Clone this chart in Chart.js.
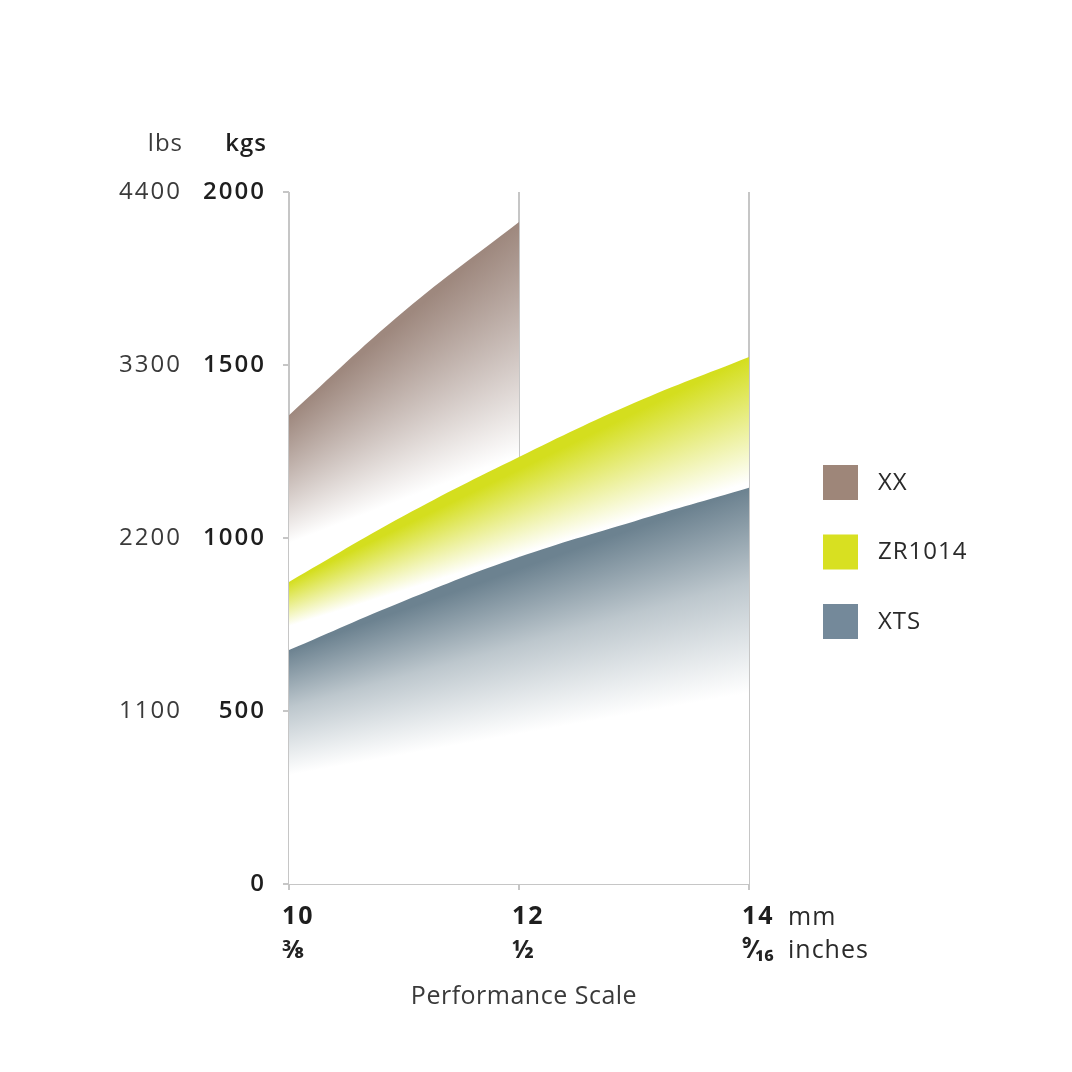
<!DOCTYPE html>
<html>
<head>
<meta charset="utf-8">
<title>Performance Scale</title>
<script src="https://cdn.jsdelivr.net/npm/chart.js@4.4.1/dist/chart.umd.min.js"></script>
<style>
    html, body { margin: 0; padding: 0; background: #fff; }
    #wrap { width: 1072px; height: 1072px; position: relative; }
</style>
</head>
<body>
<div id="wrap"><canvas id="chart"></canvas></div>
<script>
// Axis ticks
const mmTicks = [10, 12, 14];
const inchTicks = ['⅜', '½', '⁹⁄₁₆'];
const kgTicks = [0, 500, 1000, 1500, 2000];
const lbsTicks = [1100, 2200, 3300, 4400];

// Series (chain size in mm -> working load in kgs)
const seriesNames = ['XX', 'ZR1014', 'XTS'];
const xxSizes = [10, 11, 12];
const xxLoad = [1355, 1655, 1913];
const zrSizes = [10, 11, 12, 13, 14];
const zrLoad = [873, 1064, 1234, 1390, 1523];
const xtsSizes = [10, 11, 12, 13, 14];
const xtsLoad = [676, 818, 945, 1048, 1145];

// Look of each band: colour and where the fade to white ends (kgs at first / last point)
const bandStyle = {
    'XX':     { color: [158, 136, 126], legend: '#9e8679', fadeTo: [985, 1240], mid: 0.55 },
    'ZR1014': { color: [212, 222, 30],  legend: '#d8e021', fadeTo: [745, 1160], mid: 0.55 },
    'XTS':    { color: [108, 130, 144], legend: '#74899a', fadeTo: [315, 552],  mid: 0.45 }
};

const FONT = '"Open Sans", "Noto Sans", sans-serif';
const GRID = '#c6c6c6';

function rgb(c, a) {
    return `rgba(${c[0]}, ${c[1]}, ${c[2]}, ${a === undefined ? 1 : a})`;
}

function mixWhite(c, t) {
    return rgb(c.map(v => Math.round(v + (255 - v) * t)));
}

// Fill that fades from the top edge of the band down to white.
// The fade follows the slope of the band (conic gradient centred where
// the top edge and the fade edge meet).
function bandFill(ctx) {
    const chart = ctx.chart;
    const ds = ctx.dataset;
    const st = bandStyle[ds.label];
    const area = chart.chartArea;
    if (!area || !chart.scales.x) return rgb(st.color);

    const xs = chart.scales.x, ys = chart.scales.y;
    const first = ds.data[0], last = ds.data[ds.data.length - 1];
    const x0 = xs.getPixelForValue(first.x), x1 = xs.getPixelForValue(last.x);
    const t0 = ys.getPixelForValue(first.y), t1 = ys.getPixelForValue(last.y);
    const e0 = ys.getPixelForValue(st.fadeTo[0]), e1 = ys.getPixelForValue(st.fadeTo[1]);
    const sT = (t1 - t0) / (x1 - x0), sE = (e1 - e0) / (x1 - x0);
    const c = chart.ctx;
    const full = rgb(st.color), mid = mixWhite(st.color, 0.55);

    const d = (e0 - t0) / (sT - sE);
    if (Math.abs(sT - sE) > 1e-3 && d < -20 && c.createConicGradient) {
        const cx = x0 + d, cy = t0 + sT * d;
        const aT = Math.atan2(t1 - cy, x1 - cx);
        const aE = Math.atan2(e1 - cy, x1 - cx);
        const pad = 0.2, start = aT - pad, TAU = Math.PI * 2;
        const off = a => (a - start) / TAU;
        const g = c.createConicGradient(start, cx, cy);
        g.addColorStop(0, full);
        g.addColorStop(off(aT), full);
        g.addColorStop(off(aT + (aE - aT) * st.mid), mid);
        g.addColorStop(off(aE), '#ffffff');
        g.addColorStop(1, '#ffffff');
        return g;
    }
    const g = c.createLinearGradient(0, Math.min(t0, t1), 0, Math.max(e0, e1));
    g.addColorStop(0, full);
    g.addColorStop(st.mid, mid);
    g.addColorStop(1, '#ffffff');
    return g;
}

function band(label, sizes, load, fill) {
    return {
        label: label,
        data: sizes.map((x, i) => ({ x: x, y: load[i] })),
        fill: fill,
        backgroundColor: bandFill,
        borderColor: 'rgba(0,0,0,0)',
        borderWidth: 0,
        pointRadius: 0,
        pointHoverRadius: 0,
        tension: 0.4
    };
}

// Texts that Chart.js axes can't place: units, fractions, title, legend
const extraText = {
    id: 'extraText',
    beforeDraw(chart) {
        chart.ctx.letterSpacing = '2px';
    },
    afterDraw(chart) {
        const c = chart.ctx;
        const area = chart.chartArea;
        const xs = chart.scales.x, yk = chart.scales.y, yl = chart.scales.lbs;
        c.save();
        c.textBaseline = 'alphabetic';

        // unit headers above the y columns
        c.textAlign = 'right';
        c.letterSpacing = '1px';
        c.fillStyle = '#3a3a3a';
        c.font = `400 24px ${FONT}`;
        c.fillText('lbs', yl.right - yl.options.ticks.padding + 1, area.top - 41);
        c.fillStyle = '#1e1e1e';
        c.font = `600 24px ${FONT}`;
        c.fillText('kgs', yk.right - yk.options.grid.tickLength - yk.options.ticks.padding + 1, area.top - 41);

        // inch fractions under the mm ticks
        c.textAlign = 'left';
        c.letterSpacing = '0px';
        c.fillStyle = '#222';
        c.font = `700 25px ${FONT}`;
        mmTicks.forEach((v, i) => {
            c.fillText(inchTicks[i], xs.getPixelForValue(v) - 7, area.bottom + 74);
        });

        // units after the last tick
        const xl = xs.getPixelForValue(mmTicks[mmTicks.length - 1]) + 39;
        c.fillStyle = '#2a2a2a';
        c.font = `400 25px ${FONT}`;
        c.letterSpacing = '1px';
        c.fillText('mm', xl, area.bottom + 41);
        c.fillText('inches', xl, area.bottom + 74);

        // x title
        c.textAlign = 'center';
        c.fillStyle = '#3a3a3a';
        c.letterSpacing = '0.5px';
        c.fillText('Performance Scale', (area.left + area.right) / 2 + 5, area.bottom + 120);

        // legend
        c.textAlign = 'left';
        c.textBaseline = 'middle';
        c.letterSpacing = '1px';
        c.font = `400 24px ${FONT}`;
        seriesNames.forEach((name, i) => {
            const bx = area.right + 74;
            const by = area.top + 273 + i * 69.5;
            c.fillStyle = bandStyle[name].legend;
            c.fillRect(bx, by, 35, 35);
            c.fillStyle = '#2a2a2a';
            c.fillText(name, bx + 55, by + 18);
        });
        c.restore();
    }
};

function init() {
    const ctx = document.getElementById('chart').getContext('2d');
    new Chart(ctx, {
        type: 'line',
        data: {
            datasets: [
                band('XTS', xtsSizes, xtsLoad, 'origin'),
                band('ZR1014', zrSizes, zrLoad, 0),
                band('XX', xxSizes, xxLoad, 'origin')
            ]
        },
        options: {
            responsive: true,
            maintainAspectRatio: false,
            animation: false,
            events: [],
            layout: { padding: { left: 90, right: 323, top: 192, bottom: 128 } },
            plugins: {
                legend: { display: false },
                tooltip: { enabled: false }
            },
            scales: {
                x: {
                    type: 'linear',
                    min: mmTicks[0],
                    max: mmTicks[mmTicks.length - 1],
                    z: 1,
                    afterBuildTicks: s => { s.ticks = mmTicks.map(v => ({ value: v })); },
                    ticks: {
                        align: 'start',
                        labelOffset: -7,
                        padding: 12,
                        color: '#1e1e1e',
                        font: { family: FONT, size: 25, weight: '700' },
                        callback: v => String(v)
                    },
                    grid: { color: GRID, lineWidth: 2, tickLength: 6 },
                    border: { color: GRID, width: 2 },
                    afterFit: s => { s.height = 60; }
                },
                y: {
                    position: 'left',
                    weight: 1,
                    min: kgTicks[0],
                    max: kgTicks[kgTicks.length - 1],
                    afterBuildTicks: s => { s.ticks = kgTicks.map(v => ({ value: v })); },
                    ticks: {
                        padding: 17,
                        color: '#1e1e1e',
                        font: { family: FONT, size: 24, weight: '600' },
                        callback: v => String(v)
                    },
                    grid: { drawOnChartArea: false, color: GRID, lineWidth: 2, tickLength: 6 },
                    border: { display: false },
                    afterFit: s => { s.width = 104; }
                },
                lbs: {
                    position: 'left',
                    weight: 2,
                    min: 0,
                    max: lbsTicks[lbsTicks.length - 1],
                    afterBuildTicks: s => { s.ticks = lbsTicks.map(v => ({ value: v })); },
                    ticks: {
                        padding: 3,
                        color: '#3a3a3a',
                        font: { family: FONT, size: 24, weight: '400' },
                        callback: v => String(v)
                    },
                    grid: { display: false, drawTicks: false },
                    border: { display: false },
                    afterFit: s => { s.width = 95; }
                }
            }
        },
        plugins: [extraText]
    });
}

window.onload = init;
</script>
</body>
</html>
